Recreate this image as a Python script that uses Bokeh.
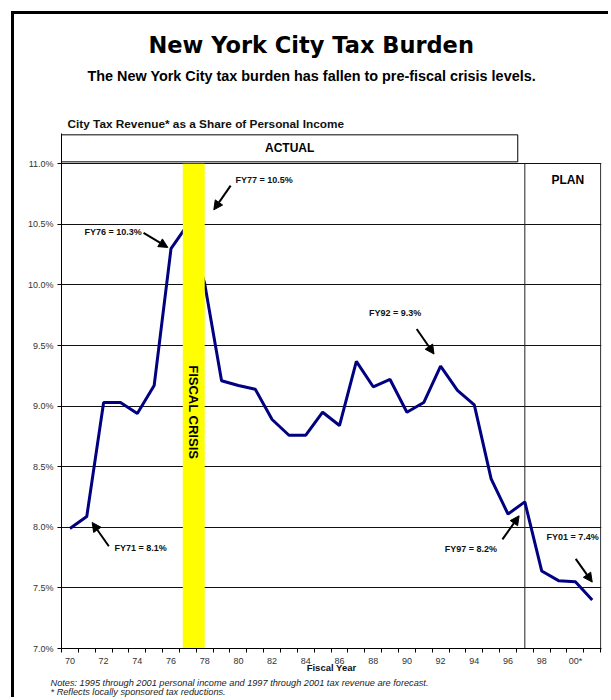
import math
from bokeh.plotting import figure
from bokeh.models import (Label, Arrow, NormalHead, FixedTicker, Title,
                          PrintfTickFormatter, Range1d, ColumnDataSource)
from bokeh.embed import file_html
from bokeh.resources import INLINE

# ---------------- data ----------------
fiscal_years = list(range(70, 102))  # 70 = FY1970 ... 101 = FY2001
tax_share = [7.99, 8.09, 9.03, 9.03, 8.94, 9.17, 10.30, 10.50, 10.01, 9.21,
             9.17, 9.14, 8.89, 8.76, 8.76, 8.95, 8.84, 9.37, 9.16, 9.22,
             8.95, 9.03, 9.33, 9.13, 9.01, 8.40, 8.11, 8.21, 7.64, 7.56,
             7.55, 7.40]
x_tick_positions = [70, 72, 74, 76, 78, 80, 82, 84, 86, 88, 90, 92, 94, 96, 98, 100]
x_tick_labels = ["70", "72", "74", "76", "78", "80", "82", "84", "86", "88",
                 "90", "92", "94", "96", "98", "00*"]
y_ticks = [7.0, 7.5, 8.0, 8.5, 9.0, 9.5, 10.0, 10.5, 11.0]

crisis_start, crisis_end = 76.7, 78.0
plan_start = 97

callout_years = [77, 76, 92, 71, 97, 101]
callout_texts = ["FY77 = 10.5%", "FY76 = 10.3%", "FY92 = 9.3%", "FY71 = 8.1%",
                 "FY97 = 8.2%", "FY01 = 7.4%"]

title_text = "New York City Tax Burden"
subtitle_text = "The New York City tax burden has fallen to pre-fiscal crisis levels."
chart_label = "City Tax Revenue* as a Share of Personal Income"
x_axis_title = "Fiscal Year"
note_1 = "Notes:  1995 through 2001 personal income and 1997 through 2001 tax revenue are forecast."
note_2 = "*  Reflects locally sponsored tax reductions."

# ---------------- layout ----------------
FONT = "Liberation Sans"
OFFSET = 14                      # page border (margin + 3px line)
W, H = 611 - OFFSET, 700 - OFFSET
X0, X1 = 69.5, 101.55
Y0, Y1 = 7.0, 11.25
MB_LEFT, MB_RIGHT, MB_TOP, MB_BOTTOM = 47, 10, 119, 52

p = figure(width=W, height=H, x_range=Range1d(X0, X1), y_range=Range1d(Y0, Y1),
           output_backend="svg", toolbar_location=None,
           min_border_left=MB_LEFT, min_border_right=MB_RIGHT,
           min_border_top=MB_TOP, min_border_bottom=MB_BOTTOM)
p.styles = {"margin-left": "11px", "margin-top": "11px",
            "border-left": "3px solid black", "border-top": "3px solid black"}
p.outline_line_color = None
p.background_fill_color = "white"
p.border_fill_color = "white"

# grid
p.xgrid.visible = False
p.ygrid.ticker = FixedTicker(ticks=y_ticks)
p.ygrid.grid_line_color = "#111111"
p.ygrid.grid_line_width = 1

# y axis
p.yaxis.ticker = FixedTicker(ticks=y_ticks)
p.yaxis.formatter = PrintfTickFormatter(format="%.1f%%")
p.yaxis.axis_line_color = "black"
p.yaxis.major_tick_out = 4
p.yaxis.major_tick_in = 0
p.yaxis.minor_tick_line_color = None
p.yaxis.major_label_standoff = 4
p.yaxis.major_label_text_font = FONT
p.yaxis.major_label_text_font_size = "9px"
p.yaxis.major_label_text_color = "#333333"

# x axis
minor = [x - 0.5 for x in fiscal_years] + [fiscal_years[-1] + 0.5]
p.xaxis.ticker = FixedTicker(ticks=x_tick_positions, minor_ticks=minor)
p.xaxis.major_label_overrides = {t: l for t, l in zip(x_tick_positions, x_tick_labels)}
p.xaxis.axis_line_color = "black"
p.xaxis.major_tick_line_color = None
p.xaxis.major_tick_out = 0
p.xaxis.major_tick_in = 0
p.xaxis.minor_tick_out = 4
p.xaxis.minor_tick_in = 0
p.xaxis.minor_tick_line_color = "black"
p.xaxis.major_label_standoff = 3
p.xaxis.major_label_text_font = FONT
p.xaxis.major_label_text_font_size = "9px"
p.xaxis.major_label_text_color = "#333333"
p.xaxis.axis_label = x_axis_title
p.xaxis.axis_label_standoff = -7
p.xaxis.axis_label_text_font = FONT
p.xaxis.axis_label_text_font_style = "bold"
p.xaxis.axis_label_text_font_size = "9.5px"
p.xaxis.axis_label_text_color = "#111111"

# notes under the axis
p.add_layout(Title(text=note_1, align="left", offset=-11, standoff=0, text_font=FONT,
                   text_font_style="italic", text_font_size="9.2px",
                   text_color="#222222"), "below")
p.add_layout(Title(text=note_2, align="left", offset=-11, standoff=-6, text_font=FONT,
                   text_font_style="italic", text_font_size="9.2px",
                   text_color="#222222"), "below")

# titles above (first added is closest to the plot)
p.add_layout(Title(text=chart_label, align="left", offset=6, standoff=6, text_font=FONT,
                   text_font_style="bold", text_font_size="11.8px",
                   text_color="#111111"), "above")
p.add_layout(Title(text=" ", align="left", standoff=13, text_font=FONT,
                   text_font_size="10px"), "above")
p.add_layout(Title(text=subtitle_text, align="left", offset=26, standoff=4, text_font=FONT,
                   text_font_style="bold", text_font_size="14.4px",
                   text_color="black"), "above")
p.add_layout(Title(text=title_text, align="left", offset=87, standoff=11,
                   text_font="DejaVu Sans", text_font_style="bold",
                   text_font_size="22.5px", text_color="black"), "above")

# ACTUAL box above plot area
p.quad(left=[X0], right=[96.58], bottom=[11.016], top=[11.239],
       fill_color="white", line_color="black", line_width=1)
p.add_layout(Label(x=83.04, y=11.13, text="ACTUAL", text_align="center",
                   text_baseline="middle", text_font=FONT, text_font_style="bold",
                   text_font_size="12px", text_color="black"))

# plan divider and right border
p.segment(x0=[plan_start, 101.5], y0=[7.0, 7.0], x1=[plan_start, 101.5], y1=[11.0, 11.0],
          line_color="#222222", line_width=1)
p.add_layout(Label(x=99.55, y=10.87, text="PLAN", text_align="center",
                   text_baseline="middle", text_font=FONT, text_font_style="bold",
                   text_font_size="12px", text_color="black"))

# main line
src = ColumnDataSource(dict(x=fiscal_years, y=tax_share))
p.line("x", "y", source=src, line_color="#000080", line_width=3)

# fiscal crisis bar (drawn above the line)
p.quad(left=[crisis_start], right=[crisis_end], bottom=[7.0], top=[11.0],
       fill_color="#FFFF00", line_color=None)
p.add_layout(Label(x=(crisis_start + crisis_end) / 2, y=8.95, text="FISCAL CRISIS",
                   angle=-math.pi / 2, text_align="center", text_baseline="middle",
                   text_font=FONT, text_font_style="bold", text_font_size="13px",
                   text_color="black"))

# call-outs: (text dx, text dy, tail dx, tail dy, tip dx, tip dy) relative to the point
callout_offsets = [
    (2.83, 0.368, 2.54, 0.32, 1.54, 0.12),
    (-5.13, 0.14, -1.63, 0.13, -0.19, 0.01),
    (-4.25, 0.44, -1.42, 0.307, -0.39, 0.10),
    (1.65, -0.263, 1.31, -0.246, 0.32, -0.05),
    (-4.76, -0.388, -1.33, -0.31, -0.34, -0.115),
    (-2.72, 0.518, -0.98, 0.34, 0.0, 0.148),
]
for yr, txt, off in zip(callout_years, callout_texts, callout_offsets):
    val = tax_share[fiscal_years.index(yr)]
    tdx, tdy, adx, ady, hdx, hdy = off
    p.add_layout(Label(x=yr + tdx, y=val + tdy, text=txt, text_align="left",
                       text_baseline="middle", text_font=FONT, text_font_style="bold",
                       text_font_size="9px", text_color="#111111"))
    p.add_layout(Arrow(end=NormalHead(size=9, fill_color="black", line_color="black"),
                       x_start=yr + adx, y_start=val + ady, x_end=yr + hdx, y_end=val + hdy,
                       line_color="black", line_width=2))

open("out.html", "w").write(file_html(p, INLINE))
